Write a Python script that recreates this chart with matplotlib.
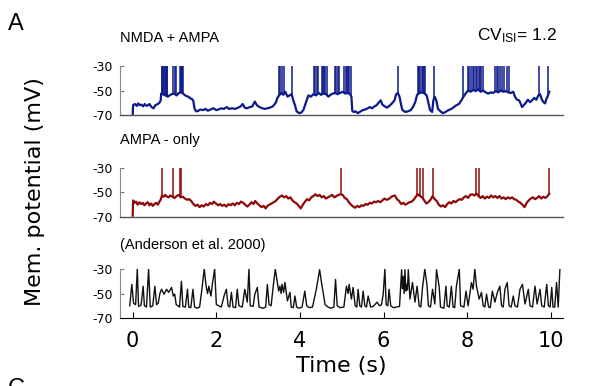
import matplotlib

matplotlib.use("Agg")
import matplotlib.pyplot as plt
import numpy as np

plt.rcParams["mathtext.default"] = "regular"

# NMDA + AMPA trace (s, mV) and spike times
nmda_t = [0.0, 0.01, 0.05, 0.10, 0.13, 0.17, 0.21, 0.25, 0.29, 0.33, 0.37, 0.40, 0.45, 0.50, 0.54,
          0.60, 0.64, 0.67, 0.68, 0.72, 0.78, 0.84, 0.88, 0.93, 0.99, 1.05, 1.10, 1.16, 1.22, 1.28,
          1.33, 1.38, 1.42, 1.45, 1.48, 1.52, 1.57, 1.62, 1.68, 1.74, 1.80, 1.86, 1.93, 2.0, 2.05,
          2.12, 2.18, 2.25, 2.30, 2.38, 2.45, 2.52, 2.58, 2.63, 2.68, 2.73, 2.80, 2.86, 2.92, 2.97,
          3.03, 3.10, 3.16, 3.22, 3.28, 3.35, 3.42, 3.46, 3.50, 3.55, 3.60, 3.65, 3.70, 3.75, 3.80,
          3.84, 3.88, 3.92, 3.98, 4.03, 4.08, 4.12, 4.16, 4.20, 4.26, 4.32, 4.38, 4.45, 4.50, 4.56,
          4.62, 4.68, 4.73, 4.78, 4.84, 4.90, 4.96, 5.02, 5.08, 5.14, 5.20, 5.23, 5.25, 5.28, 5.33,
          5.38, 5.43, 5.50, 5.56, 5.62, 5.67, 5.72, 5.78, 5.83, 5.88, 5.93, 5.97, 6.03, 6.08, 6.14,
          6.20, 6.26, 6.30, 6.34, 6.38, 6.42, 6.45, 6.52, 6.58, 6.65, 6.71, 6.76, 6.80, 6.86, 6.92,
          6.98, 7.03, 7.07, 7.11, 7.16, 7.19, 7.22, 7.26, 7.30, 7.36, 7.42, 7.48, 7.55, 7.62, 7.68,
          7.74, 7.80, 7.86, 7.91, 7.96, 8.02, 8.08, 8.14, 8.20, 8.26, 8.32, 8.38, 8.44, 8.50, 8.56,
          8.62, 8.68, 8.74, 8.80, 8.86, 8.92, 8.98, 9.04, 9.10, 9.14, 9.19, 9.24, 9.28, 9.31, 9.35,
          9.40, 9.45, 9.50, 9.55, 9.60, 9.65, 9.70, 9.74, 9.78, 9.82, 9.86, 9.89, 9.92, 9.96]
nmda_v = [-70, -62, -61, -62.5, -60.5, -62, -61.5, -63, -61, -62.5, -62, -61, -63.5, -64.5, -62,
          -61, -60, -58, -52.5, -53, -54, -55, -54, -53, -52.5, -54, -52, -51.5, -53, -54.5,
          -55, -56.5, -57, -58.5, -65, -67, -66.5, -65.5, -66, -65, -66.5, -65.5, -64.5, -66, -65.5,
          -64.5, -65, -63.5, -65, -64.5, -65, -64, -63, -61, -64, -64.5, -63.5, -63, -59, -62,
          -63.5, -64.5, -65, -64.5, -64, -63, -60, -56, -54, -52, -53.5, -51, -55, -54, -53,
          -58, -62, -67, -68.5, -68, -66, -62, -58, -54, -55, -53, -54, -52, -53.5, -52.5,
          -53, -55, -53.5, -52.5, -52, -53, -52, -51, -52.5, -52, -53, -55, -66.5, -67.5, -67,
          -68.5, -67.5, -66, -65.5, -64.5, -63.5, -64.5, -63, -62, -60, -58, -61.5, -63, -64, -62.5,
          -60.5, -58, -53, -52, -55, -62, -66, -67.5, -67, -66, -63, -59, -53.5, -52, -51.5,
          -52.5, -54, -60, -66, -67.5, -58, -55, -58, -65, -67, -68.5, -67.5, -66, -65, -63.5,
          -62, -61, -58, -55, -52.5, -50, -51, -49.5, -50.5, -49, -51, -50, -51.5, -52.5, -51.5,
          -52, -50.5, -51.5, -50, -51, -50.5, -51.5, -52, -51, -55, -57.5, -58, -61, -63.5, -62,
          -60, -57.5, -59.5, -58, -56, -57.5, -54, -53, -57, -59.5, -60.5, -57, -55, -51]
nmda_spikes = [0.69, 0.71, 0.73, 0.75, 0.77, 0.79, 0.81, 0.83, 0.97, 1.00, 1.03,
               1.13, 1.15, 1.17, 1.19, 1.21, 3.49, 3.53, 3.56, 3.62, 3.80,
               4.33, 4.36, 4.40, 4.43, 4.52, 4.55, 4.58, 4.61, 4.64, 4.84, 4.87, 4.90, 4.93,
               5.05, 5.09, 5.12, 5.15, 5.18, 5.21, 6.34, 6.82, 6.85, 6.88, 6.91, 6.94, 6.97, 7.00,
               7.21, 7.90, 8.01, 8.05, 8.09, 8.14, 8.17, 8.20, 8.24, 8.27, 8.31, 8.34, 8.37,
               8.66, 8.70, 8.74, 8.78, 8.84, 8.88, 8.96, 9.00, 9.72, 9.94]

# AMPA-only trace
ampa_t = [0.0, 0.01, 0.04, 0.08, 0.12, 0.16, 0.20, 0.24, 0.28, 0.32, 0.36, 0.40, 0.44, 0.48, 0.52,
          0.56, 0.60, 0.64, 0.67, 0.70, 0.74, 0.78, 0.82, 0.86, 0.90, 0.95, 1.0, 1.05, 1.10, 1.15,
          1.20, 1.25, 1.30, 1.35, 1.40, 1.45, 1.50, 1.55, 1.60, 1.65, 1.70, 1.75, 1.80, 1.85, 1.90,
          1.94, 1.99, 2.04, 2.09, 2.14, 2.19, 2.24, 2.29, 2.34, 2.39, 2.44, 2.49, 2.54, 2.59, 2.64,
          2.69, 2.74, 2.79, 2.84, 2.89, 2.93, 2.98, 3.03, 3.08, 3.13, 3.18, 3.22, 3.27, 3.32, 3.37,
          3.42, 3.47, 3.52, 3.57, 3.62, 3.67, 3.72, 3.77, 3.82, 3.87, 3.92, 3.97, 4.02, 4.07, 4.12,
          4.17, 4.22, 4.27, 4.32, 4.37, 4.42, 4.47, 4.52, 4.57, 4.62, 4.67, 4.72, 4.77, 4.82, 4.87,
          4.92, 4.97, 5.02, 5.07, 5.12, 5.17, 5.22, 5.27, 5.32, 5.37, 5.42, 5.47, 5.52, 5.57, 5.62,
          5.67, 5.72, 5.77, 5.82, 5.87, 5.92, 5.97, 6.02, 6.07, 6.12, 6.17, 6.22, 6.27, 6.32, 6.37,
          6.42, 6.47, 6.52, 6.57, 6.62, 6.67, 6.72, 6.77, 6.82, 6.87, 6.92, 6.97, 7.02, 7.07, 7.12,
          7.17, 7.22, 7.27, 7.32, 7.37, 7.42, 7.47, 7.52, 7.57, 7.62, 7.67, 7.72, 7.77, 7.82, 7.87,
          7.92, 7.97, 8.02, 8.07, 8.12, 8.17, 8.22, 8.27, 8.32, 8.37, 8.42, 8.47, 8.52, 8.57, 8.62,
          8.67, 8.72, 8.77, 8.82, 8.87, 8.92, 8.97, 9.02, 9.07, 9.12, 9.17, 9.22, 9.27, 9.32, 9.37,
          9.42, 9.47, 9.52, 9.57, 9.62, 9.67, 9.72, 9.77, 9.82, 9.87, 9.92, 9.96]
ampa_v = [-69, -56.5, -58.5, -57.5, -60, -58, -59.5, -58.5, -60.5, -59, -58, -60.5, -59, -61, -59.5,
          -58.5, -60, -57.5, -56, -52.5, -53.5, -52, -53.5, -54, -52.5, -53.5, -54.5, -53, -52, -54,
          -53.5, -55, -56, -55.5, -57, -59.5, -61, -60, -62, -60.5, -61.5, -59.5, -60.5, -58.5, -59.5,
          -57.5, -59, -60.5, -59.5, -61, -60, -61.5, -59.5, -60.5, -59, -60.5, -58.5, -59.5, -57.5, -58.5,
          -60, -61.5, -60, -58, -59.5, -57, -59, -60.5, -62, -61, -63, -61, -60, -59, -58,
          -57, -55, -53.5, -52.5, -54, -53, -55, -54, -56.5, -58, -59, -61, -63, -60, -57.5,
          -55.5, -56.5, -54, -53, -51.5, -53, -52, -54, -53, -55, -54, -53, -52, -54, -53,
          -52, -51.5, -52, -54.5, -55.5, -58, -60, -61.5, -62.5, -61, -62, -60.5, -61, -59.5, -60,
          -58.5, -59, -57.5, -58, -57, -58, -56.5, -55, -56, -55.5, -54, -53, -52.5, -55.5, -57,
          -59.5, -58.5, -60, -59, -58, -57.5, -56, -53.5, -51.5, -53, -54, -56.5, -59, -58, -56,
          -53, -55.5, -57, -60, -61.5, -60.5, -62, -59.5, -58, -59, -57, -58, -56.5, -55.5, -56,
          -54, -53, -54.5, -52, -51.5, -52.5, -51, -53, -54.5, -53, -55, -53.5, -54.5, -52.5, -54,
          -53, -54.5, -53, -55, -54, -55.5, -54, -55, -54, -55.5, -56, -57.5, -58.5, -60, -62,
          -58.5, -56.5, -55, -54, -55.5, -54.5, -53, -55, -53.5, -54.5, -53, -51]
ampa_spikes = [0.70, 0.97, 1.12, 1.16, 4.99, 6.80, 6.86, 6.93, 7.19, 8.21, 8.27, 9.96]

# recorded trace (Anderson et al. 2000): (time s, mV) at peaks and troughs
rec_points = [
    (-0.07, -60), (-0.02, -42.5), (0.02, -58), (0.07, -59), (0.11, -30), (0.14, -60.5),
    (0.20, -59.5), (0.25, -44), (0.28, -60), (0.33, -61), (0.38, -30), (0.42, -61), (0.48, -60),
    (0.53, -44), (0.57, -59), (0.61, -58), (0.65, -50), (0.69, -46.5), (0.75, -50.5), (0.81, -46.5),
    (0.86, -49), (0.93, -45), (0.97, -52), (1.005, -50.5), (1.04, -59), (1.12, -61), (1.165, -40),
    (1.20, -60.5), (1.26, -61), (1.31, -46.5), (1.34, -61), (1.39, -61.5), (1.44, -46.5),
    (1.48, -61), (1.54, -62), (1.60, -61), (1.66, -45), (1.71, -30), (1.76, -45), (1.79, -50),
    (1.82, -44), (1.87, -52), (1.91, -41), (1.96, -30), (2.00, -59), (2.06, -60), (2.12, -61),
    (2.185, -51.9), (2.24, -46.5), (2.28, -60), (2.32, -61), (2.36, -49), (2.40, -61),
    (2.46, -61.5), (2.50, -46.5), (2.54, -60), (2.62, -61), (2.68, -46.5), (2.74, -57), (2.78, -30),
    (2.81, -60), (2.88, -60.5), (2.92, -50.5), (2.98, -45), (3.02, -61), (3.12, -62), (3.18, -61),
    (3.22, -42.5), (3.26, -59), (3.31, -60), (3.36, -44), (3.41, -30), (3.46, -41), (3.49, -48),
    (3.52, -44), (3.55, -50), (3.57, -42.5), (3.61, -49), (3.64, -41), (3.70, -56), (3.76, -49),
    (3.79, -61), (3.84, -61.5), (3.88, -52), (3.92, -61), (3.98, -62), (4.05, -61), (4.115, -48),
    (4.16, -60), (4.22, -61.5), (4.30, -61), (4.39, -46.5), (4.47, -30.5), (4.51, -40), (4.60, -59),
    (4.67, -61), (4.74, -62), (4.81, -61), (4.85, -38.5), (4.89, -60), (4.96, -61.5), (5.05, -61),
    (5.11, -44), (5.15, -50), (5.175, -42.5), (5.23, -54.5), (5.27, -45), (5.32, -60), (5.36, -61),
    (5.39, -46.5), (5.43, -60), (5.47, -61), (5.51, -48), (5.55, -60), (5.59, -61), (5.63, -52),
    (5.69, -61), (5.75, -60.5), (5.845, -57), (5.90, -60), (5.95, -59), (5.99, -50.5), (6.03, -30),
    (6.06, -59), (6.10, -60), (6.13, -46.5), (6.17, -60), (6.23, -61.5), (6.30, -61), (6.38, -60.5),
    (6.43, -30.5), (6.45, -46), (6.47, -36), (6.49, -50), (6.51, -30.5), (6.53, -48), (6.55, -42.5),
    (6.57, -47), (6.59, -30.5), (6.63, -54.5), (6.69, -41), (6.75, -57), (6.80, -44), (6.85, -60),
    (6.89, -61), (6.93, -45), (6.985, -30), (7.04, -44), (7.07, -60), (7.12, -61), (7.17, -46.5),
    (7.225, -58.5), (7.265, -30.5), (7.33, -45), (7.36, -61), (7.44, -62), (7.49, -44), (7.52, -60),
    (7.57, -61), (7.62, -44), (7.66, -61), (7.70, -61.5), (7.74, -44), (7.81, -30), (7.84, -60),
    (7.92, -61), (7.97, -48), (8.02, -60), (8.10, -41), (8.14, -46.5), (8.18, -30), (8.22, -44),
    (8.285, -54.5), (8.34, -49), (8.38, -60), (8.42, -61), (8.46, -50.5), (8.51, -61), (8.55, -61.5),
    (8.60, -48), (8.66, -57), (8.72, -49), (8.78, -44), (8.82, -60), (8.86, -61), (8.90, -46.5),
    (8.955, -41), (9.00, -60), (9.05, -61), (9.10, -52), (9.14, -60), (9.20, -61), (9.26, -46.5),
    (9.32, -42.5), (9.38, -58.5), (9.46, -46.5), (9.50, -60), (9.56, -61), (9.62, -44), (9.67, -58.5),
    (9.74, -46.5), (9.78, -60), (9.84, -61), (9.90, -42.5), (9.94, -60), (9.98, -61), (10.02, -45),
    (10.05, -61), (10.09, -61), (10.135, -41), (10.175, -61), (10.215, -30),
]
rec_t = [p[0] for p in rec_points]
rec_v = [p[1] for p in rec_points]

x_ticks = [0, 2, 4, 6, 8, 10]
y_ticks = [-30, -50, -70]

panels = [
    ("NMDA + AMPA", nmda_t, nmda_v, nmda_spikes, "#0c1a8a", 1.6),
    ("AMPA - only", ampa_t, ampa_v, ampa_spikes, "#8e0a0a", 1.6),
    ("(Anderson et al. 2000)", rec_t, rec_v, [], "#111111", 1.0),
]

fig = plt.figure(figsize=(6.14, 3.86), dpi=100)
bottoms = [0.702, 0.438, 0.176]
title_y = [0.902, 0.637, 0.365]

for i, (name, t, v, spikes, color, lw) in enumerate(panels):
    ax = fig.add_axes([0.195, bottoms[i], 0.722, 0.127])
    ax.plot(t, v, color=color, lw=lw)
    if spikes:
        base = np.interp(spikes, t, v)
        ax.vlines(spikes, base, -25, color=color, lw=1.1)
    ax.set_xlim(-0.31, 10.29)
    ax.set_ylim(-70, -30)
    ax.set_yticks(y_ticks)
    ax.set_yticklabels([str(y) for y in y_ticks], fontsize=9)
    ax.tick_params(axis="y", direction="in", length=3, pad=5, color="#777777")
    for s in ["top", "right"]:
        ax.spines[s].set_visible(False)
    ax.spines["left"].set_color("#888888")
    ax.spines["left"].set_linewidth(0.8)
    if i < 2:
        ax.spines["bottom"].set_color("#555555")
        ax.spines["bottom"].set_linewidth(1.0)
        ax.set_xticks([])
    else:
        ax.spines["bottom"].set_color("black")
        ax.set_xticks(x_ticks)
        ax.set_xticklabels([str(x) for x in x_ticks], fontsize=15)
        ax.tick_params(axis="x", direction="in", length=4, pad=9)
        ax.set_xlabel("Time (s)", fontsize=16, labelpad=4)
    fig.text(0.195, title_y[i], name, fontsize=10.5, family="Liberation Sans", va="center")

fig.text(0.907, 0.907, "CV$_{ISI}$= 1.2", fontsize=12.5, family="Liberation Sans",
         ha="right", va="center")
fig.text(0.013, 0.938, "A", fontsize=17, family="Liberation Sans", va="center")
fig.text(0.012, 0.022, "C", fontsize=17, family="Liberation Sans", va="top")
fig.text(0.057, 0.503, "Mem. potential (mV)", fontsize=16, rotation=90, ha="center", va="center")

fig.savefig("out.png", dpi=100)
